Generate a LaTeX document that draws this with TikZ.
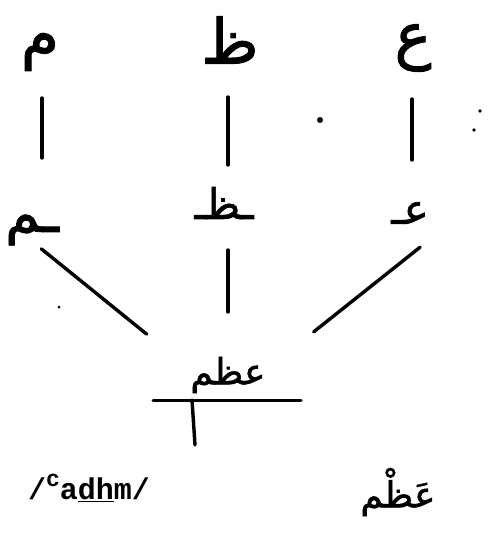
\documentclass[tikz,border=0pt]{standalone}
\usepackage{fontspec}
\newfontfamily\arabicfont[Script=Arabic,FakeBold=1.5]{DejaVu Sans}
\newfontfamily\translitfont{Liberation Mono}
\TeXXeTstate=1
\usetikzlibrary{calc}

\tikzset{
  letter/.style={font=\arabicfont\fontsize{42}{42}\selectfont, inner sep=0pt},
  bigletter/.style={letter, font=\arabicfont\fontsize{62}{62}\selectfont},
  wordtext/.style={letter, font=\arabicfont\fontsize{36}{36}\selectfont},
  stem/.style={line width=3.4pt, line cap=round},
}
\newcommand{\ar}[1]{\beginR #1\endR}

\begin{document}
\begin{tikzpicture}[x=1pt,y=-1pt]
  \useasboundingbox (0,0) rectangle (495,548);

  % Enkeltstaaende bogstaver
  \node[bigletter] (mimIso) at (40,52) {\ar{م}};
  \node[bigletter] (zaIso) at (230,40) {\ar{ظ}};
  \node[bigletter] (ainIso) at (413,48) {\ar{ع}};

  % Bogstaver i forbindelse
  \node[letter, font=\arabicfont\fontsize{56}{56}\selectfont] (mimMid) at (32,230) {\ar{ـم}};
  \node[letter] (zaMid) at (224,203) {\ar{ـظـ}};
  \node[letter] (ainMid) at (410,213) {\ar{عـ}};

  % Ordet
  \node[wordtext] (word) at (228,375) {\ar{عظم}};
  \coordinate (root) at (228,400);

  % Lodrette streger
  \draw[stem] (mimIso.center) ++(2,46) -- ++(0,60);
  \draw[stem] (zaIso.center) ++(-2,57) -- ++(0,68);
  \draw[stem] (ainIso.center) ++(-1,51) -- ++(0,61);

  % Skraa streger mod ordet
  \draw[stem] (root) ++(141:104.6pt) -- ++(141:135.6pt);
  \draw[stem] (root) ++(0,-88) -- ++(0,-62);
  \draw[stem] (root) ++(38.5:109.5pt) -- ++(38.5:136pt);

  % Linje under ordet
  \draw[stem, line width=3pt] (root) ++(-75,0) -- ++(148,0);
  \draw[stem] (root) ++(-36,0) -- ++(3,45);

  % Prikker
  \fill (320,120) circle (3pt);
  \fill (480,111) circle (1.8pt);
  \fill (474,130) circle (1.8pt);
  \fill (59,307) circle (1.5pt);

  % Udtale og vokaliseret ord
  \node[font=\translitfont\bfseries\fontsize{30}{30}\selectfont, inner sep=0pt]
    (translit) at (89,488) {/\raisebox{0.45em}{\fontsize{23}{23}\selectfont c}a\underline{dh}m/};
  \node[wordtext] (vocal) at (398,492) {\ar{عَظْم}};
\end{tikzpicture}
\end{document}
